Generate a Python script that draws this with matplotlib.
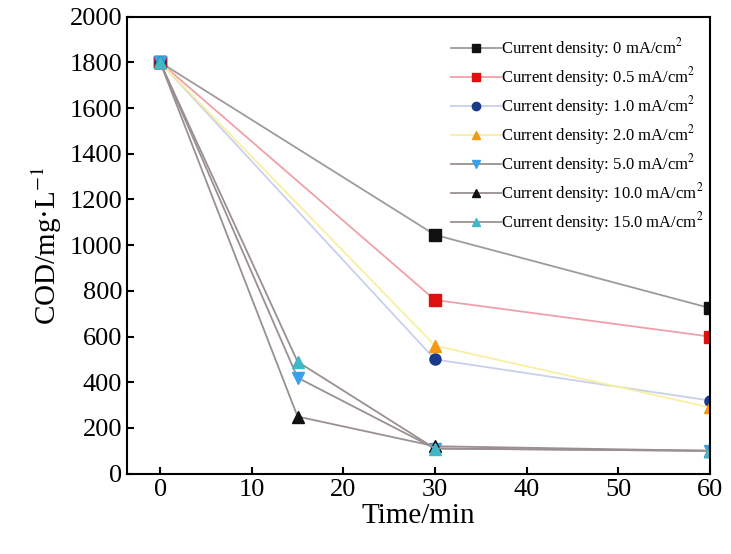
import matplotlib
matplotlib.use("Agg")
import matplotlib.pyplot as plt

plt.rcParams['font.family'] = ['Liberation Serif', 'DejaVu Serif']
plt.rcParams['mathtext.fontset'] = 'stix'

labels = ["Current density: 0 mA/cm$^2$", "Current density: 0.5 mA/cm$^2$",
          "Current density: 1.0 mA/cm$^2$", "Current density: 2.0 mA/cm$^2$",
          "Current density: 5.0 mA/cm$^2$", "Current density: 10.0 mA/cm$^2$",
          "Current density: 15.0 mA/cm$^2$"]
t_low = [0, 30, 60]
t_high = [0, 15, 30, 60]
cod_0 = [1800, 1045, 725]
cod_05 = [1800, 760, 600]
cod_1 = [1800, 500, 320]
cod_2 = [1800, 560, 290]
cod_5 = [1800, 420, 110, 100]
cod_10 = [1800, 250, 120, 100]
cod_15 = [1800, 490, 110, 100]

series = [
    (t_low, cod_0, '#a09a9a', 's', '#111111'),
    (t_low, cod_05, '#f0a0a8', 's', '#e01010'),
    (t_low, cod_1, '#c8d0ec', 'o', '#1a3a8a'),
    (t_low, cod_2, '#f8f0a0', '^', '#f59a10'),
    (t_high, cod_5, '#9a9090', 'v', '#3aa0e8'),
    (t_high, cod_10, '#9a9090', '^', '#111111'),
    (t_high, cod_15, '#9a9090', '^', '#40b8c8'),
]

fig = plt.figure(figsize=(7.31, 5.54), dpi=100)
ax = fig.add_axes([0.174, 0.145, 0.797, 0.825])
for (x, y, lc, m, mc), lab in zip(series, labels):
    ax.plot(x, y, color=lc, lw=1.3, marker=m, markersize=8, markerfacecolor=mc,
            markeredgecolor=mc, label=lab)

ax.set_xlim(-3.6, 60)
ax.set_ylim(0, 2000)
ax.set_xticks([0, 10, 20, 30, 40, 50, 60])
ax.set_yticks(range(0, 2001, 200))
ax.tick_params(direction='in', labelsize=19, length=5, width=1.5)
for s in ax.spines.values():
    s.set_linewidth(1.5)
ax.set_xlabel("Time/min", fontsize=21, labelpad=2)
ax.set_ylabel("COD/mg·L$^{-1}$", fontsize=21, labelpad=4)
ax.legend(loc='upper right', frameon=False, fontsize=12, handlelength=3.0,
          handletextpad=0.0, labelspacing=0.3, markerscale=0.75,
          bbox_to_anchor=(1.015, 0.99))
fig.savefig("out.png", dpi=100)
